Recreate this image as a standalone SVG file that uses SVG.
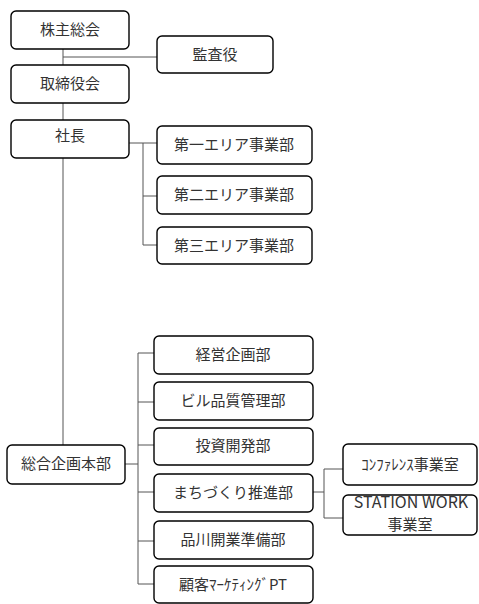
<svg xmlns="http://www.w3.org/2000/svg" width="479" height="604" viewBox="0 0 479 604">
<style>
.box{fill:#fff;stroke:#000;stroke-width:1.4}
.t{font-family:"Noto Sans CJK JP","Noto Sans",sans-serif;font-size:15px;fill:#333;text-anchor:middle}
.c{fill:none;stroke:#555;stroke-width:1}
</style>
<rect width="479" height="604" fill="#fff"/>
<g id="connectors">
<path class="c" d="M63 49V65M63 57H157M63 103V120M63 158V445"/>
<path class="c" d="M129 143H157M143 143V245M143 196H157M143 245H157"/>
<path class="c" d="M125 464H138M138 353V584M138 353H154M138 402H154M138 445H154M138 492H154M138 541H154M138 584H154"/>
<path class="c" d="M313 492H324M324 469V518M324 469H343M324 518H343"/>
</g>
<g id="n1"><rect class="box" x="11" y="11" width="118" height="38" rx="5"/><text class="t" x="70" y="35">株主総会</text></g>
<g id="n2"><rect class="box" x="157" y="36" width="116" height="37" rx="5"/><text class="t" x="215" y="60">監査役</text></g>
<g id="n3"><rect class="box" x="11" y="65" width="118" height="38" rx="5"/><text class="t" x="70" y="89">取締役会</text></g>
<g id="n4"><rect class="box" x="11" y="120" width="118" height="38" rx="5"/><text class="t" x="70" y="141">社長</text></g>
<g id="n5"><rect class="box" x="157" y="126" width="155" height="38" rx="5"/><text class="t" x="234" y="150">第一エリア事業部</text></g>
<g id="n6"><rect class="box" x="157" y="176" width="155" height="38" rx="5"/><text class="t" x="234" y="200">第二エリア事業部</text></g>
<g id="n7"><rect class="box" x="157" y="227" width="155" height="37" rx="5"/><text class="t" x="234" y="251">第三エリア事業部</text></g>
<g id="n8"><rect class="box" x="7" y="445" width="118" height="39" rx="5"/><text class="t" x="66" y="469">総合企画本部</text></g>
<g id="n9"><rect class="box" x="154" y="336" width="159" height="38" rx="5"/><text class="t" x="233" y="360">経営企画部</text></g>
<g id="n10"><rect class="box" x="154" y="382" width="159" height="38" rx="5"/><text class="t" x="233" y="406">ビル品質管理部</text></g>
<g id="n11"><rect class="box" x="154" y="428" width="159" height="37" rx="5"/><text class="t" x="233" y="451">投資開発部</text></g>
<g id="n12"><rect class="box" x="154" y="474" width="159" height="38" rx="5"/><text class="t" x="233" y="498">まちづくり推進部</text></g>
<g id="n13"><rect class="box" x="154" y="521" width="159" height="38" rx="5"/><text class="t" x="233" y="545">品川開業準備部</text></g>
<g id="n14"><rect class="box" x="154" y="566" width="159" height="37" rx="5"/><text class="t" x="233" y="590">顧客ﾏｰｹﾃｨﾝｸﾞPT</text></g>
<g id="n15"><rect class="box" x="343" y="444" width="134" height="41" rx="5"/><text class="t" x="410" y="470">ｺﾝﾌｧﾚﾝｽ事業室</text></g>
<g id="n16"><rect class="box" x="343" y="495" width="134" height="40" rx="5"/><text class="t" x="411" y="508" style="font-size:16px">STATION WORK</text><text class="t" x="410" y="530">事業室</text></g>
</svg>
